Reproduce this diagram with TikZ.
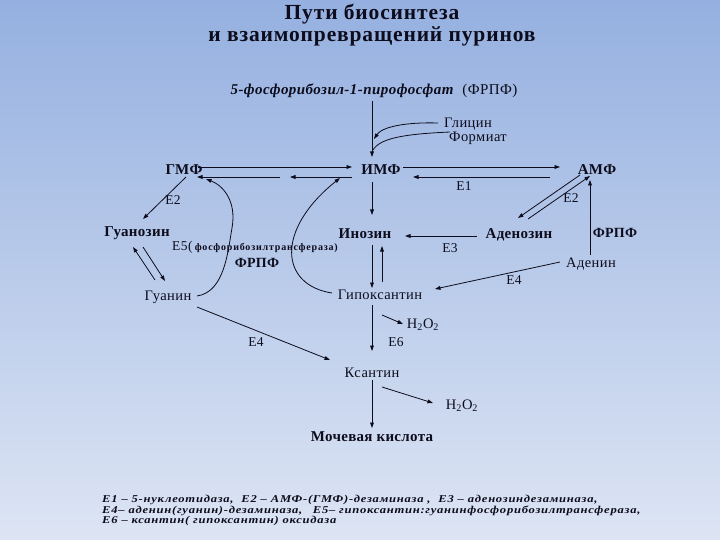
\documentclass[tikz,border=0pt]{standalone}
\usepackage{fontspec}
\setmainfont{Liberation Serif}
\usetikzlibrary{arrows.meta,calc}
\definecolor{bgtop}{RGB}{149,176,224}
\definecolor{bgbot}{RGB}{221,229,244}
\definecolor{ink}{RGB}{12,12,28}
\tikzset{
  arr/.style={draw=ink,line width=0.8pt,-{Triangle[length=5.5pt,width=3.8pt]}},
  ln/.style={draw=ink,line width=0.8pt},
  bnode/.style={inner sep=1pt,text=ink,font=\fontsize{15}{17}\selectfont\bfseries\addfontfeatures{LetterSpace=2}},
  rnode/.style={inner sep=1pt,text=ink,font=\fontsize{14.5}{16}\selectfont\addfontfeatures{LetterSpace=3}},
  lbl/.style={inner sep=1pt,text=ink,font=\fontsize{13.5}{15}\selectfont\addfontfeatures{LetterSpace=3}},
  ttl/.style={inner sep=0pt,text=ink,text height=14pt,text depth=3pt,font=\fontsize{21.5}{24}\selectfont\bfseries\addfontfeatures{LetterSpace=4}},
  leg/.style={inner sep=0pt,text=ink,anchor=west,text height=7.5pt,text depth=2pt,font=\fontsize{10.5}{11}\selectfont\bfseries\itshape\addfontfeatures{FakeStretch=1.2,LetterSpace=7}}
}
\begin{document}
\begin{tikzpicture}[x=1pt,y=-1pt]
\shade[top color=bgtop,bottom color=bgbot] (0,0) rectangle (720,540);
\useasboundingbox (0,0) rectangle (720,540);
% title
\node[ttl] (t1) at (372,14) {Пути биосинтеза};
\node[ttl] (t2) at (372,36) {и взаимопревращений пуринов};
\node[lbl] (frpf) at (374,91) {\fontsize{15}{17}\selectfont\textbf{\textit{5-фосфорибозил-1-пирофосфат}}\ \ (ФРПФ)};
\node[rnode] (glycine) at (468,124) {Глицин};
\node[rnode] (formiate) at (478,138) {Формиат};
% main nodes
\node[bnode] (gmf) at (184,170) {ГМФ};
\node[bnode] (imf) at (381,170) {ИМФ};
\node[bnode] (amf) at (597,170) {АМФ};
\node[bnode] (guanosine) at (137,233) {Гуанозин};
\node[bnode] (inosine) at (365,234) {Инозин};
\node[bnode] (adenosine) at (519,235) {Аденозин};
\node[rnode,font=\fontsize{14}{16}\selectfont\bfseries\addfontfeatures{LetterSpace=2}] (frpf2) at (615,233) {ФРПФ};
\node[rnode] (adenine) at (591,264) {Аденин};
\node[rnode] (guanine) at (168,297) {Гуанин};
\node[rnode] (hypox) at (380,295) {Гипоксантин};
\node[rnode] (xanthine) at (372,373) {Ксантин};
\node[bnode] (uric) at (372,437) {Мочевая кислота};
\node[rnode] (h2o2a) at (423,325) {H\textsubscript{2}O\textsubscript{2}};
\node[rnode] (h2o2b) at (462,406) {H\textsubscript{2}O\textsubscript{2}};
% enzyme labels
\node[lbl] (e1) at (464,186) {E1};
\node[lbl] (e2a) at (173,200) {E2};
\node[lbl] (e2b) at (571,198) {E2};
\node[lbl] (e3) at (450,248) {E3};
\node[lbl] (e4a) at (514,280) {E4};
\node[lbl] (e4b) at (256,342) {E4};
\node[lbl] (e6) at (396,342) {E6};
\node[lbl,anchor=west] (e5) at (171,247) {E5(\,{\fontsize{10}{11}\selectfont\bfseries\addfontfeatures{LetterSpace=8}фосфорибозилтрансфераза)}};
\node[lbl,font=\fontsize{14}{16}\selectfont\bfseries\addfontfeatures{LetterSpace=2}] (frpf3) at (257,263) {ФРПФ};
% arrows top
\coordinate (src) at ($(frpf)+(-2,10)$);
\draw[arr] (src) -- ($(imf)+(-9,-13)$);
\draw[arr] ($(glycine)+(-30,-1)$) .. controls (405,122) and (382,127) .. ($(imf)+(-7,-31)$);
\draw[ln] ($(formiate)+(-28,-6)$) .. controls (405,134) and (380,138) .. ($(imf)+(-8,-20)$);
% GMF <-> IMF
\draw[arr] ($(gmf)+(14,-3)$) -- ($(imf)+(-29,-3)$);
\coordinate (gapR) at ($(gmf)+(106,7)$);
\coordinate (gapL) at ($(gmf)+(96,7)$);
\draw[arr] ($(imf)+(-29,7)$) -- (gapR);
\draw[arr] (gapL) -- ($(gmf)+(13,7)$);
% IMF <-> AMF
\draw[arr] ($(imf)+(22,-3)$) -- ($(amf)+(-37,-3)$);
\draw[arr] ($(amf)+(-47,7)$) -- ($(imf)+(32,7)$);
% GMF -> Guanosine
\draw[arr] ($(gmf)+(2,7)$) -- ($(guanosine)+(6,-14)$);
% Guanine -> GMF curve
\draw[arr] ($(guanine)+(29,-1)$) .. controls (225,292) and (228,250) .. (232,228)
  .. controls (237,200) and (222,185) .. ($(gmf)+(22,9)$);
% Hypoxanthine -> IMF curve
\draw[arr] ($(hypox)+(-48,-2)$) .. controls (280,285) and (275,230) .. ($(imf)+(-41,8)$);
% Guanosine <-> Guanine
\draw[arr] ($(guanine)+(-13,-17)$) -- ($(guanosine)+(-4,14)$);
\draw[arr] ($(guanosine)+(6,14)$) -- ($(guanine)+(-3,-16)$);
% IMF -> Inosine
\draw[arr] ($(imf)+(-9,12)$) -- ($(inosine)+(7,-19)$);
% Inosine <-> Hypoxanthine
\draw[arr] ($(inosine)+(7,11)$) -- ($(hypox)+(-8,-7)$);
\draw[arr] ($(hypox)+(2,-13)$) -- ($(inosine)+(17,12)$);
% Adenosine -> Inosine
\draw[arr] ($(adenosine)+(-42,1)$) -- ($(inosine)+(40,2)$);
% AMF <-> Adenosine
\draw[arr] ($(amf)+(-17,5)$) -- ($(adenosine)+(-1,-17)$);
\draw[arr] ($(adenosine)+(9,-16)$) -- ($(amf)+(-7,6)$);
% Adenine -> AMF
\draw[arr] ($(adenine)+(-1,-9)$) -- ($(amf)+(-7,10)$);
% Adenine -> Hypoxanthine
\draw[arr] ($(adenine)+(-31,-2)$) -- ($(hypox)+(55,-6)$);
% Hypoxanthine -> Xanthine
\draw[arr] ($(hypox)+(-8,10)$) -- ($(xanthine)+(0,-22)$);
\draw[arr] ($(hypox)+(2,20)$) -- ($(h2o2a)+(-20,-1)$);
% Guanine -> Xanthine
\draw[arr] ($(guanine)+(29,10)$) -- ($(xanthine)+(-42,-13)$);
% Xanthine -> Uric acid
\draw[arr] ($(xanthine)+(0,7)$) -- ($(uric)+(0,-9)$);
\draw[arr] ($(xanthine)+(10,14)$) -- ($(h2o2b)+(-29,-3)$);
% legend
\node[leg] (l1) at (102,500) {E1 -- 5-нуклеотидаза,\ \ E2 -- АМФ-(ГМФ)-дезаминаза ,\ \ E3 -- аденозиндезаминаза,};
\node[leg] (l2) at (102,510.5) {E4-- аденин(гуанин)-дезаминаза,\quad E5-- гипоксантин:гуанинфосфорибозилтрансфераза,};
\node[leg] (l3) at (102,521) {E6 -- ксантин( гипоксантин) оксидаза};
\end{tikzpicture}
\end{document}
